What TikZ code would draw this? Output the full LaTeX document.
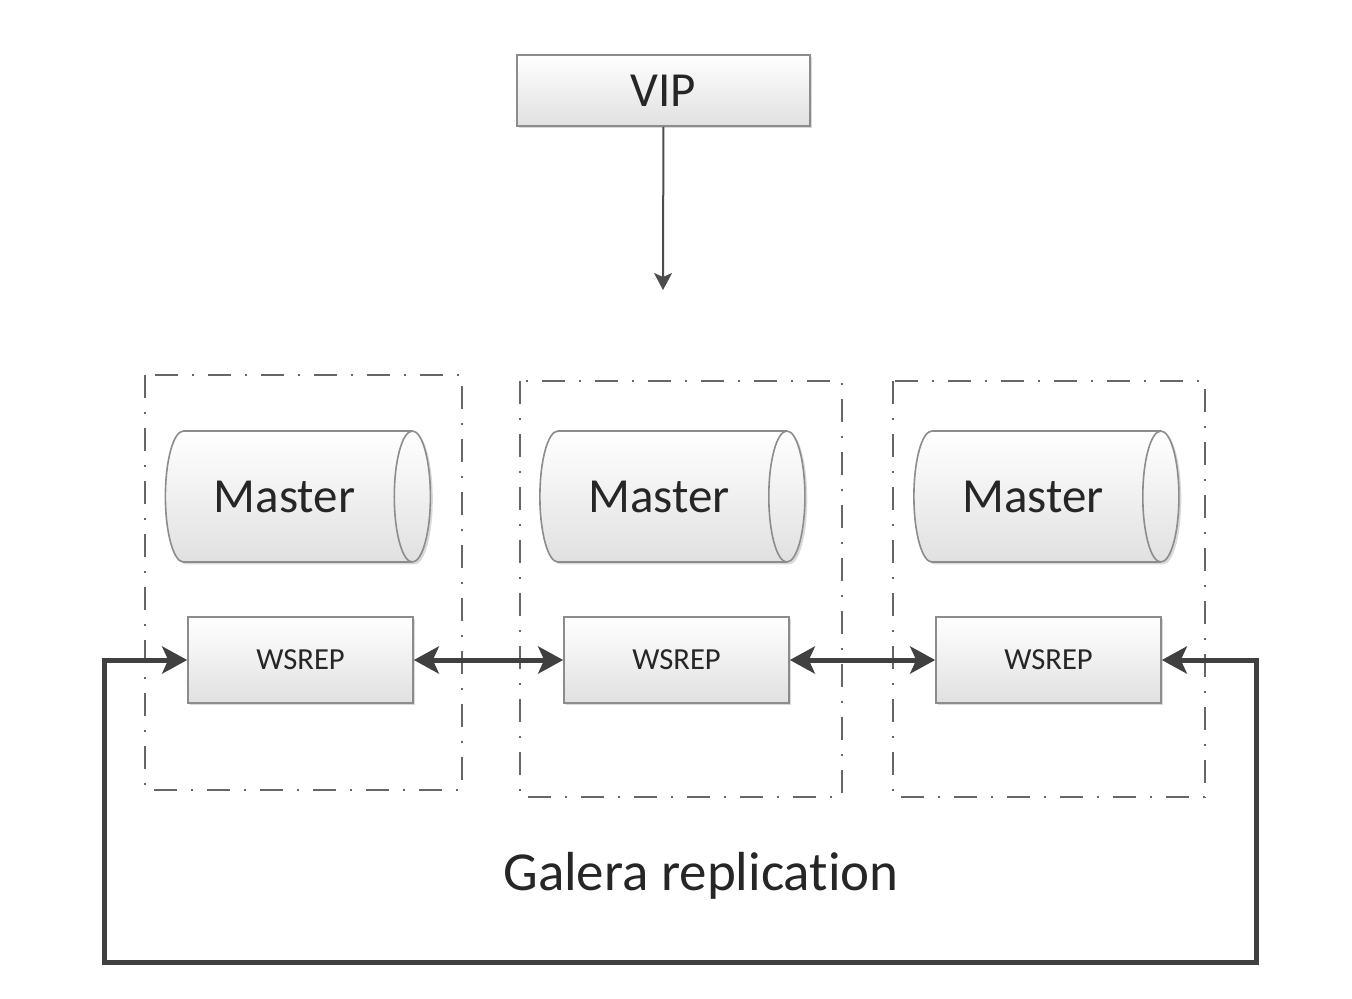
\documentclass[tikz,border=0pt]{standalone}
\usepackage{fontspec}
\setmainfont{Carlito}[Ligatures=NoCommon]
\usetikzlibrary{shapes.geometric,arrows.meta,shadows}
\begin{document}
\begin{tikzpicture}
      [x=0.5pt,y=-0.5pt,
      box/.style={draw=black!45,line width=0.8pt,top color=white,bottom color=black!12,text=black!85,
        drop shadow={shadow xshift=1.2pt,shadow yshift=-1.2pt,opacity=0.3}},
      vip/.style={box,minimum width=146.5pt,minimum height=35.5pt,font=\fontsize{24.5}{29}\selectfont},
      master/.style={box,cylinder,shape aspect=0.8,minimum width=65.5pt,minimum height=132.5pt,
        font=\fontsize{24.5}{29}\selectfont},
      wsrep/.style={box,minimum width=112.5pt,minimum height=43pt,font=\fontsize{15.3}{18}\selectfont},
      hostbox/.style={draw=black!60,line width=1pt,dash pattern=on 11.5pt off 7pt on 1pt off 7pt},
      link/.style={draw=black!75,line width=2.5pt,
        {Stealth[length=12.5pt,width=13.5pt,inset=3pt]}-{Stealth[length=12.5pt,width=13.5pt,inset=3pt]}},
      down/.style={draw=black!70,line width=1pt,-{Stealth[length=8.5pt,width=9pt,inset=2pt]}}]
      \useasboundingbox (0,0) rectangle (1352,998);
      \draw[hostbox] (145,375) rectangle (462,790);
      \draw[hostbox] (520,381) rectangle (842,797);
      \draw[hostbox] (893,381) rectangle (1205,797);
      \node[vip] (vip) at (663.5,90.5) {VIP};
      \coordinate (vipend) at (663,290);
      \draw[down] (vip) -- (vipend);
      \node[master] (m1) at (284.5,496.5) {Master};
      \node[master] (m2) at (659,496.5) {Master};
      \node[master] (m3) at (1033,496.5) {Master};
      \node[wsrep] (ws1) at (300.5,660) {WSREP};
      \node[wsrep] (ws2) at (676.5,660) {WSREP};
      \node[wsrep] (ws3) at (1048.5,660) {WSREP};
      \draw[link] (ws1) -- (ws2);
      \draw[link] (ws2) -- (ws3);
      \draw[link] (ws1.west) -- ++(-83,0) -- ++(0,302) -- ++(1152,0) |- (ws3.east);
      \node[font=\fontsize{27.5}{32}\selectfont,text=black!85] (galera) at (701,876) {Galera replication};
    \end{tikzpicture}
\end{document}
